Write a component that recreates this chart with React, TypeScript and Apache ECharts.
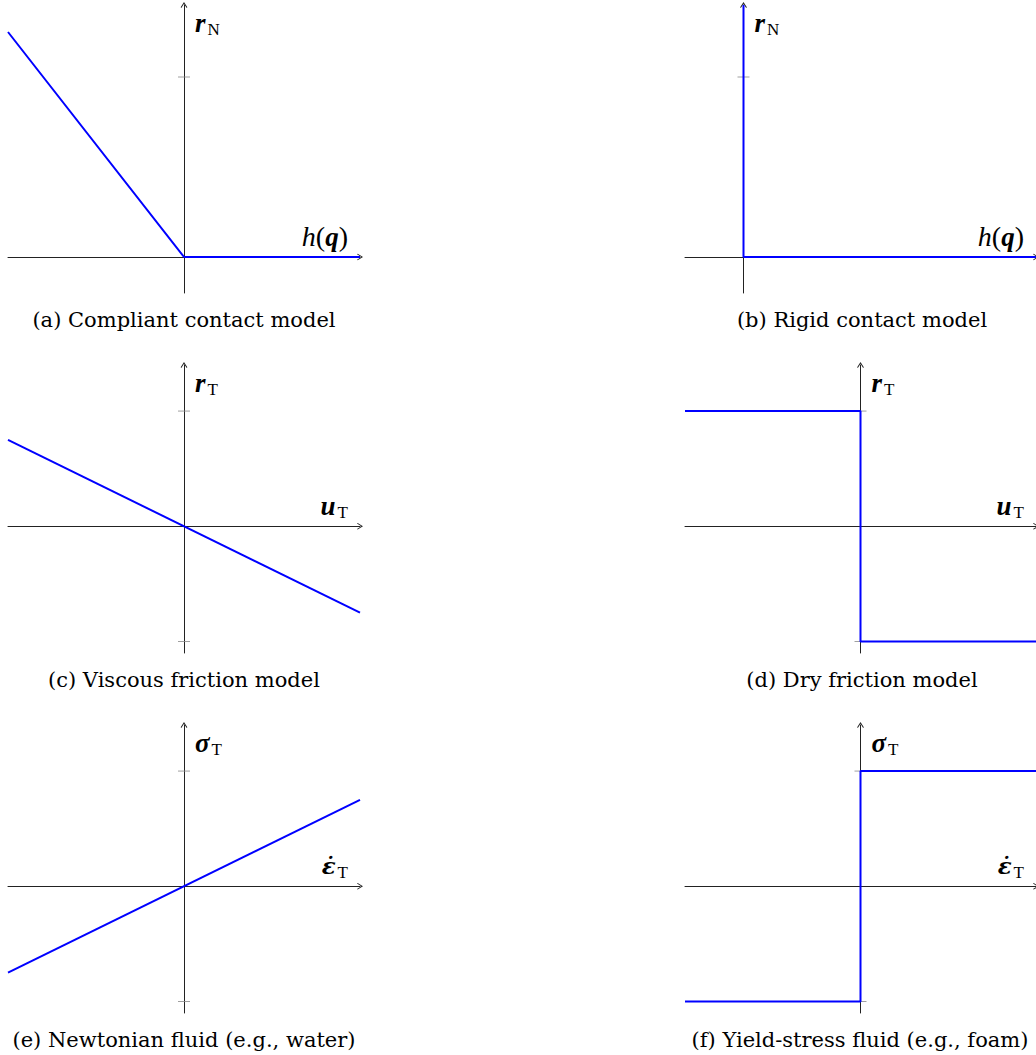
import React, { useEffect, useRef } from "react";
import * as echarts from "echarts";

// ---- data ----
const captions = [
  "(a) Compliant contact model",
  "(b) Rigid contact model",
  "(c) Viscous friction model",
  "(d) Dry friction model",
  "(e) Newtonian fluid (e.g., water)",
  "(f) Yield-stress fluid (e.g., foam)",
];
const xLabels = ["hq", "hq", "uT", "uT", "eT", "eT"];
const yLabels = ["rN", "rN", "rT", "rT", "sT", "sT"];

const compliantX = [-1, 0, 1];
const compliantY = [1.25, 0, 0];
const rigidX = [0, 0, 1];
const rigidY = [1.4, 0, 0];
const viscousX = [-1, 1];
const viscousY = [0.75, -0.75];
const dryX = [-1, 0, 0, 1];
const dryY = [1, 1, -1, -1];
const newtonX = [-1, 1];
const newtonY = [-0.75, 0.75];
const yieldX = [-1, 0, 0, 1];
const yieldY = [-1, -1, 1, 1];

const seriesX = [compliantX, rigidX, viscousX, dryX, newtonX, yieldX];
const seriesY = [compliantY, rigidY, viscousY, dryY, newtonY, yieldY];

const xMin = [-1, -0.2, -1, -1, -1, -1];
const xMax = [1, 1, 1, 1, 1, 1];
const yMin = [-0.2, -0.2, -1.1, -1.1, -1.1, -1.1];
const yMax = [1.4, 1.4, 1.4, 1.4, 1.4, 1.4];
const yTicks = [[1], [1], [1, -1], [1, -1], [1, -1], [1, -1]];

// ---- layout ----
const gridLeft = [8, 685, 8, 685, 8, 685];
const gridTop = [5, 5, 365, 365, 725, 725];
const gridWidth = [352, 351, 352, 352, 352, 352];
const gridHeight = 288;
const captionX = [184, 862, 184, 862, 184, 860];
const captionY = [320, 320, 680, 680, 1040, 1040];

const SERIF = "DejaVu Serif";
const MATH = "Liberation Serif";
const ARROW = "path://M5,0 L10,8 L9,9 L5,2.6 L1,9 L0,8 Z";

const labelText: Record<string, string> = {
  hq: "{it|h}{rm|(}{bi|q}{rm|)}",
  uT: "{bi|u}{sub|T}",
  eT: "{be|ε̇}{sub|T}",
  rN: "{bi|r}{sub|N}",
  rT: "{bi|r}{sub|T}",
  sT: "{bi|σ}{sub|T}",
};

const rich = {
  it: { fontFamily: MATH, fontStyle: "italic", fontWeight: "normal", fontSize: 28, color: "#000", verticalAlign: "bottom", lineHeight: 30 },
  rm: { fontFamily: MATH, fontStyle: "normal", fontWeight: "normal", fontSize: 28, color: "#000", verticalAlign: "bottom", lineHeight: 30 },
  bi: { fontFamily: MATH, fontStyle: "italic", fontWeight: "bold", fontSize: 27, color: "#000", verticalAlign: "bottom", lineHeight: 30 },
  be: { fontFamily: SERIF, fontStyle: "italic", fontWeight: "bold", fontSize: 23, color: "#000", verticalAlign: "bottom", lineHeight: 30, padding: [0, 0, 2, 0] },
  sub: { fontFamily: MATH, fontStyle: "normal", fontWeight: "normal", fontSize: 17, color: "#000", verticalAlign: "bottom", lineHeight: 30, padding: [0, 0, -2, 2] },
};

export default function App() {
  const ref = useRef<HTMLDivElement>(null);
  useEffect(() => {
    if (!ref.current) return;
    const chart = echarts.init(ref.current, undefined, { renderer: "svg" });
    const axisLineStyle = { color: "#222", width: 1 };
    const grids = gridLeft.map((l, i) => ({
      left: l,
      top: gridTop[i],
      width: gridWidth[i],
      height: gridHeight,
      containLabel: false,
    }));
    const xAxes = grids.map((_, i) => ({
      type: "value",
      gridIndex: i,
      min: xMin[i],
      max: xMax[i],
      splitLine: { show: false },
      axisTick: { show: false },
      axisLabel: { show: false },
      axisLine: {
        onZero: true,
        lineStyle: axisLineStyle,
        symbol: ["none", ARROW],
        symbolSize: [7, 6],
        symbolOffset: [0, 0],
      },
      name: labelText[xLabels[i]],
      nameLocation: "end",
      nameGap: -12,
      nameTextStyle: { fontFamily: MATH, fontSize: 28, align: "right", verticalAlign: "bottom", padding: [0, 0, 7, 0], rich },
    }));
    const yAxes = grids.map((_, i) => ({
      type: "value",
      gridIndex: i,
      min: yMin[i],
      max: yMax[i],
      splitLine: { show: false },
      axisTick: { show: false },
      axisLabel: { show: false },
      axisLine: {
        onZero: true,
        lineStyle: axisLineStyle,
        symbol: ["none", ARROW],
        symbolSize: [7, 6],
        symbolOffset: [0, 0],
      },
      name: labelText[yLabels[i]],
      nameLocation: "end",
      nameGap: -31,
      nameTextStyle: { fontFamily: MATH, fontSize: 27, align: "left", verticalAlign: "bottom", padding: [0, 0, 0, 11], rich },
    }));
    const series: any[] = [];
    seriesX.forEach((xs, i) => {
      series.push({
        type: "scatter",
        xAxisIndex: i,
        yAxisIndex: i,
        symbol: "rect",
        symbolSize: [12, 1],
        itemStyle: { color: "#888" },
        silent: true,
        z: 1,
        data: yTicks[i].map((v) => [0, v]),
      });
      series.push({
        type: "line",
        xAxisIndex: i,
        yAxisIndex: i,
        showSymbol: false,
        symbol: "none",
        silent: true,
        z: 3,
        lineStyle: { color: "#0000ff", width: 2 },
        data: xs.map((x, k) => [x, seriesY[i][k]]),
      });
    });
    const graphic = captions.map((t, i) => ({
      type: "text",
      x: captionX[i],
      y: captionY[i],
      style: {
        text: t,
        fontFamily: SERIF,
        fontSize: 21,
        fill: "#000",
        align: "center",
        verticalAlign: "middle",
      },
    }));
    chart.setOption({
      animation: false,
      backgroundColor: "#fff",
      grid: grids,
      xAxis: xAxes,
      yAxis: yAxes,
      series,
      graphic,
    } as any);
    return () => chart.dispose();
  }, []);
  return (
    <div
      ref={ref}
      style={{ position: "absolute", left: 0, top: 0, width: 1036, height: 1055 }}
    />
  );
}
